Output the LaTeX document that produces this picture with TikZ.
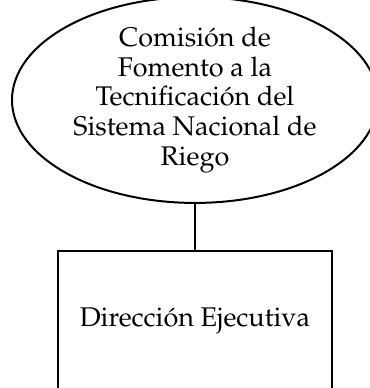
\documentclass[tikz,border=0pt]{standalone}
\usepackage[T1]{fontenc}
\renewcommand{\rmdefault}{ppl}
\usepackage{tikz}
\usetikzlibrary{
    shapes.geometric,
    positioning
}
\begin{document}
\begin{tikzpicture}[x=0.5pt,y=-0.5pt,line width=1pt,font=\fontsize{13.5}{14.8}\selectfont]
    \tikzstyle{org ellipse}=[draw, shape=ellipse, align=center, inner sep=0pt, minimum width=183pt, minimum height=92pt]
    \tikzstyle{org box}=[draw, shape=rectangle, align=center, minimum width=137pt, minimum height=70pt]
    \useasboundingbox (0, 0) rectangle (370, 388);
	\node [org ellipse] (comision) at (195, 100) {Comisión de\\ Fomento a la\\ Tecnificación del\\ Sistema Nacional de\\ Riego};
	
	\node [org box] (direccion) at (195, 321) {Dirección Ejecutiva};
	
	\draw (comision.south) -- (direccion.north);
\end{tikzpicture}
\end{document}
